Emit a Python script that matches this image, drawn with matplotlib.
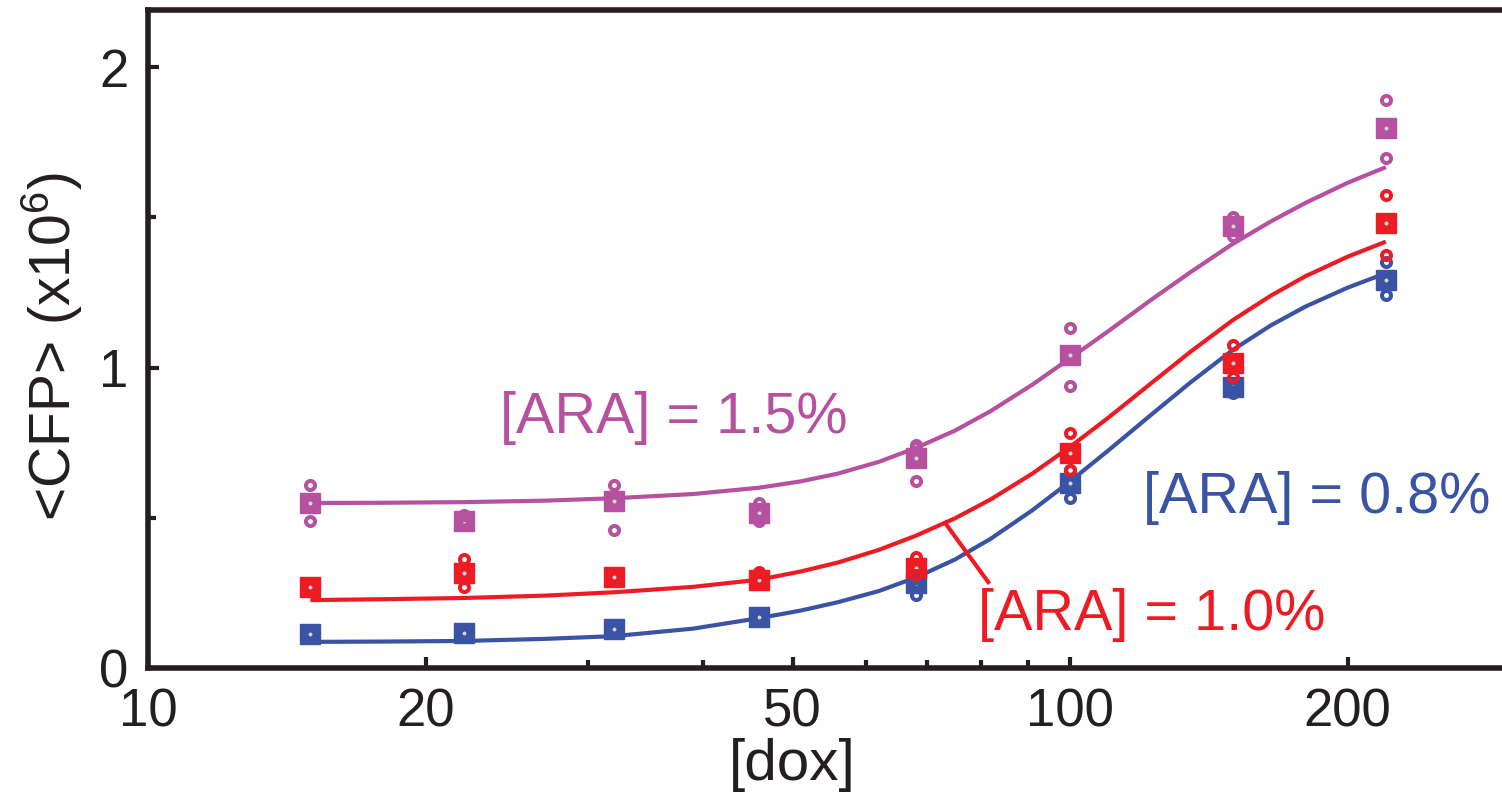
import matplotlib
matplotlib.use("Agg")
import matplotlib.pyplot as plt
from matplotlib.ticker import FixedLocator, NullFormatter, FixedFormatter

plt.rcParams['font.family'] = ['Liberation Sans', 'DejaVu Sans']
plt.rcParams['mathtext.fontset'] = 'custom'
plt.rcParams['mathtext.rm'] = 'Liberation Sans'
plt.rcParams['mathtext.default'] = 'regular'

# doses [dox]
dox = [15, 22, 32, 46, 68, 100, 150, 220]

# mean <CFP> (x10^6), squares
mean_15 = [0.55, 0.49, 0.555, 0.515, 0.70, 1.042, 1.47, 1.797]
mean_10 = [0.27, 0.316, 0.303, 0.293, 0.333, 0.715, 1.015, 1.48]
mean_08 = [0.113, 0.116, 0.13, 0.17, 0.283, 0.615, 0.935, 1.291]

# replicates, circles
reps_15 = [[0.61, 0.51, 0.61, 0.55, 0.742, 1.131, 1.50, 1.89],
           [0.55, 0.49, 0.555, 0.52, 0.735, 1.042, 1.47, 1.797],
           [0.49, 0.48, 0.46, 0.49, 0.622, 0.938, 1.437, 1.697]]
reps_10 = [[0.27, 0.363, 0.303, 0.32, 0.37, 0.782, 1.075, 1.574],
           [0.27, 0.316, 0.303, 0.293, 0.333, 0.715, 1.015, 1.48],
           [0.27, 0.27, 0.303, 0.293, 0.31, 0.659, 0.968, 1.374]]
reps_08 = [[0.113, 0.116, 0.13, 0.17, 0.30, 0.66, 0.95, 1.351],
           [0.113, 0.116, 0.13, 0.17, 0.283, 0.615, 0.935, 1.291],
           [0.113, 0.116, 0.13, 0.17, 0.243, 0.566, 0.915, 1.241]]

# fitted curves
fit_dox = [15, 18, 22, 27, 32, 39, 46, 51, 56, 62, 68, 75, 82, 91, 100,
           110, 122, 135, 150, 165, 180, 200, 220]
fit_15 = [0.549, 0.550, 0.552, 0.557, 0.565, 0.579, 0.600, 0.621, 0.647,
          0.686, 0.732, 0.790, 0.855, 0.943, 1.031, 1.121, 1.222, 1.317,
          1.411, 1.486, 1.548, 1.615, 1.667]
fit_10 = [0.226, 0.229, 0.233, 0.241, 0.252, 0.270, 0.294, 0.321, 0.351,
          0.393, 0.440, 0.498, 0.561, 0.647, 0.736, 0.833, 0.944, 1.052,
          1.157, 1.239, 1.304, 1.369, 1.419]
fit_08 = [0.087, 0.088, 0.090, 0.097, 0.106, 0.131, 0.166, 0.191, 0.219,
          0.256, 0.301, 0.361, 0.430, 0.525, 0.621, 0.724, 0.839, 0.950,
          1.058, 1.140, 1.203, 1.266, 1.314]

purple = '#b5519f'
red = '#ed1c24'
blue = '#3a53a4'
dark = '#231f20'

fig = plt.figure(figsize=(15.02, 7.94), dpi=100)
ax = fig.add_axes([148/1502, 126/794, 1354/1502, 658/794])

for fit, mean, reps, col in [(fit_08, mean_08, reps_08, blue),
                             (fit_10, mean_10, reps_10, red),
                             (fit_15, mean_15, reps_15, purple)]:
    ax.plot(fit_dox, fit, color=col, lw=3, zorder=2, solid_capstyle='butt')
    ax.plot(dox, mean, 's', color=col, ms=15, mec=col, zorder=3)
    ax.plot(dox, mean, 'o', color='#d4d4d4', ms=3, mew=0, zorder=3.5)
    for r in reps:
        ax.plot(dox, r, 'o', ms=6.5, mfc='none', mec=col, mew=2.9, zorder=4,
                linestyle='none')

ax.set_xscale('log')
ax.set_xlim(10, 294)
ax.set_ylim(0, 2.19)

ax.xaxis.set_major_locator(FixedLocator([10, 20, 50, 100, 200]))
ax.xaxis.set_major_formatter(FixedFormatter(['10', '20', '50', '100', '200']))
ax.xaxis.set_minor_locator(FixedLocator([30, 40, 60, 70, 80, 90]))
ax.xaxis.set_minor_formatter(NullFormatter())
ax.yaxis.set_major_locator(FixedLocator([0, 1, 2]))
ax.yaxis.set_minor_locator(FixedLocator([0.5, 1.5]))

ax.tick_params(which='both', direction='in', width=3, color=dark,
               labelsize=38, labelcolor=dark)
ax.tick_params(which='major', length=8)
ax.tick_params(which='minor', length=6)
ax.tick_params(axis='x', pad=14)
ax.tick_params(axis='y', pad=14)

for s in ['left', 'bottom', 'top']:
    ax.spines[s].set_linewidth(4)
    ax.spines[s].set_color(dark)
ax.spines['right'].set_visible(False)

ax.text(24.1, 0.782, '[ARA] = 1.5%', color=purple, fontsize=41.5, va='baseline')
ax.text(120, 0.516, '[ARA] = 0.8%', color=blue, fontsize=41.5, va='baseline')
ax.text(79.5, 0.126, '[ARA] = 1.0%', color=red, fontsize=41.5, va='baseline')
ax.plot([73.2, 81.5], [0.4825, 0.286], color=red, lw=3, zorder=2)

fig.text(792/1502, 1 - 765/794, '[dox]', fontsize=42, color=dark,
         ha='center', va='center')
fig.text(52/1502, 1 - 347/794, '<CFP> (x10$^{6}$)', fontsize=41, color=dark,
         ha='center', va='center', rotation=90)

fig.savefig('out.png', dpi=100)
